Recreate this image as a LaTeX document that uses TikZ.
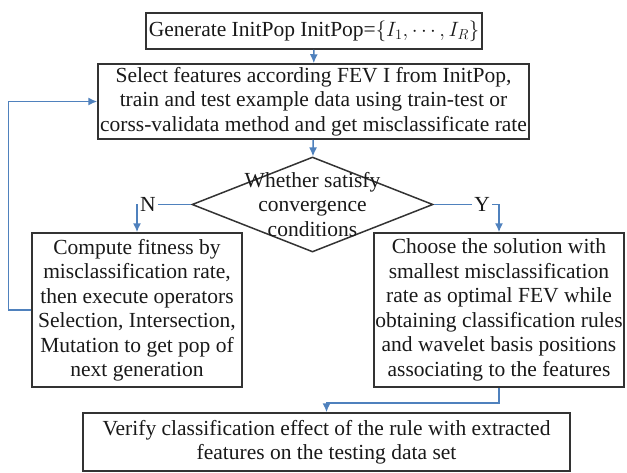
\documentclass[tikz,border=0pt]{standalone}
\usepackage{fontspec}
\setmainfont{Liberation Serif}
\usetikzlibrary{shapes.geometric,arrows.meta}

\definecolor{flowblue}{RGB}{79,129,189}
\tikzset{
  box/.style={draw=black!80, line width=1.5pt, align=center, inner sep=0pt, text=black!90},
  arr/.style={flowblue, line width=1.5pt, -{Latex[length=9pt,width=8pt]}},
  yn/.style={fill=white, inner sep=2pt, text=black!90},
}

\begin{document}
\begin{tikzpicture}[x=1pt,y=-1pt,font=\fontsize{21.5}{24.5}\selectfont]
        \useasboundingbox (0,0) rectangle (627,472);

        \node[box, minimum width=336, minimum height=36] (gen) at (314,31) {Generate InitPop InitPop=$\{I_1,\cdots,I_R\}$};
        \node[box, minimum width=431, minimum height=75] (sel) at (313.5,101.5) {Select features according FEV I from InitPop,\\train and test example data using train-test or\\corss-validata method and get misclassificate rate};
        \node[draw=black!80, line width=1.5pt, diamond, inner sep=0pt, minimum width=241, minimum height=95] (cond) at (312.5,204.5) {};
        \node[align=center, text=black!90] (condtxt) at (cond) {Whether satisfy\\convergence\\conditions};
        \node[box, minimum width=210, minimum height=154] (lft) at (137,310) {Compute fitness by\\misclassification rate,\\then execute operators\\Selection, Intersection,\\Mutation to get pop of\\next generation};
        \node[box, minimum width=250, minimum height=154] (rgt) at (499,310) {Choose the solution with\\smallest misclassification\\rate as optimal FEV while\\obtaining classification rules\\and wavelet basis positions\\associating to the features};
        \node[box, minimum width=487, minimum height=58] (ver) at (326.5,442) {Verify classification effect of the rule with extracted\\features on the testing data set};

        \draw[arr] (gen) -- (sel);
        \draw[arr] (sel) -- (cond);
        \draw[arr] (cond.west) -| node[pos=0.4, yn] {N} (lft.north);
        \draw[arr] (cond.east) -| node[pos=0.37, yn] {Y} (rgt.north);
        \draw[arr] (rgt.south) -- ++(0,15) -| (ver.north);
        \draw[arr] (lft.west) -- ++(-23,0) |- (sel.west);

\end{tikzpicture}
\end{document}
